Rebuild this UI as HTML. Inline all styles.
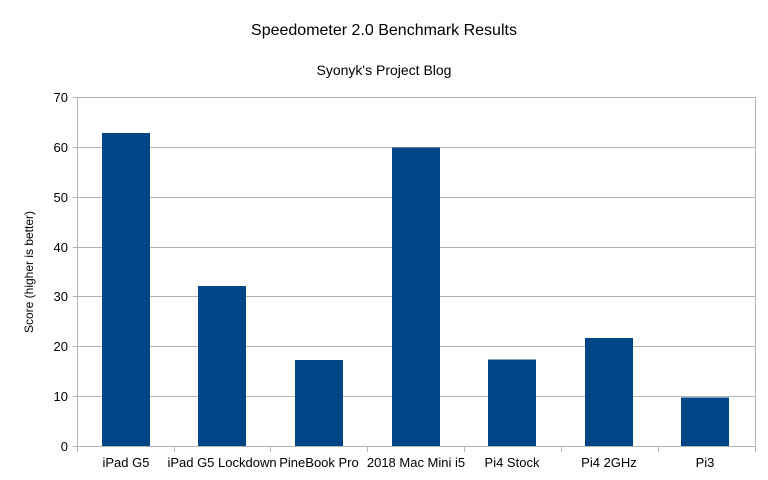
<!DOCTYPE html>
<html><head><style>body{margin:0;background:#fff}svg{display:block}text{font-family:"Liberation Sans",sans-serif;fill:#000}</style></head>
<body>
<svg width="768" height="480" xmlns="http://www.w3.org/2000/svg">
<text x="384" y="35" font-size="16" text-anchor="middle">Speedometer 2.0 Benchmark Results</text>
<text x="384" y="75" font-size="14" text-anchor="middle">Syonyk's Project Blog</text>
<g stroke="#b3b3b3" stroke-width="1">
<line x1="73" y1="97.5" x2="755" y2="97.5"/>
<line x1="73" y1="147.5" x2="755" y2="147.5"/>
<line x1="73" y1="197.5" x2="755" y2="197.5"/>
<line x1="73" y1="247.5" x2="755" y2="247.5"/>
<line x1="73" y1="296.5" x2="755" y2="296.5"/>
<line x1="73" y1="346.5" x2="755" y2="346.5"/>
<line x1="73" y1="396.5" x2="755" y2="396.5"/>
<line x1="73" y1="446.5" x2="755" y2="446.5"/>
<line x1="77.5" y1="97" x2="77.5" y2="452"/>
<line x1="755.5" y1="97" x2="755.5" y2="452"/>
<line x1="174.5" y1="446" x2="174.5" y2="452"/>
<line x1="270.5" y1="446" x2="270.5" y2="452"/>
<line x1="367.5" y1="446" x2="367.5" y2="452"/>
<line x1="464.5" y1="446" x2="464.5" y2="452"/>
<line x1="561.5" y1="446" x2="561.5" y2="452"/>
<line x1="658.5" y1="446" x2="658.5" y2="452"/>
</g>
<g fill="#004586">
<rect x="102" y="133" width="48" height="313"/>
<rect x="198" y="286" width="48" height="160"/>
<rect x="295" y="360" width="48" height="86"/>
<rect x="392" y="147.5" width="48" height="298.5"/>
<rect x="488" y="359.5" width="48" height="86.5"/>
<rect x="585" y="338" width="48" height="108"/>
<rect x="681" y="397.5" width="48" height="48.5"/>
</g>
<g font-size="13" text-anchor="end">
<text x="68" y="102">70</text><text x="68" y="152">60</text><text x="68" y="202">50</text><text x="68" y="252">40</text><text x="68" y="301">30</text><text x="68" y="351">20</text><text x="68" y="401">10</text><text x="68" y="451">0</text>
</g>
<g font-size="13" text-anchor="middle">
<text x="126" y="467">iPad G5</text><text x="222" y="467">iPad G5 Lockdown</text><text x="319" y="467">PineBook Pro</text><text x="416" y="467">2018 Mac Mini i5</text><text x="512" y="467">Pi4 Stock</text><text x="609" y="467">Pi4 2GHz</text><text x="705" y="467">Pi3</text>
</g>
<text transform="translate(33,272) rotate(-90)" font-size="12" text-anchor="middle">Score (higher is better)</text>
</svg>
</body></html>
